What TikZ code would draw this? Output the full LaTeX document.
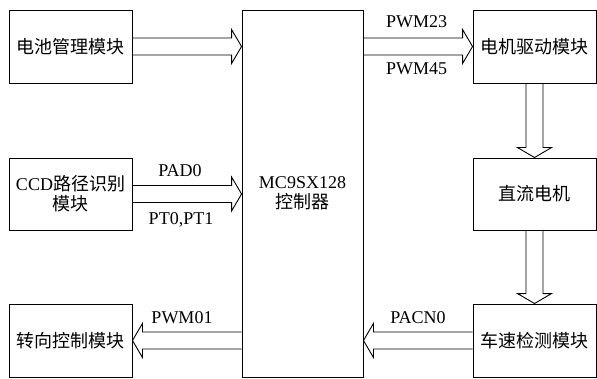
\documentclass[tikz,border=0pt]{standalone}
\usepackage{fontspec}
\setmainfont{Liberation Serif}
\newfontfamily\cjk{Noto Sans CJK SC}
\usepackage{tikz}
\usetikzlibrary{calc,positioning}

\tikzset{
  box/.style={draw, line width=0.9pt, minimum width=123pt, minimum height=73pt,
    inner sep=0pt, align=center, font=\fontsize{18}{20}\selectfont},
  lbl/.style={inner sep=0pt, font=\fontsize{18}{20}\selectfont},
  link/.style={line width=0.9pt, line join=miter},
  hollow/.style={to path={
    let \p1=($(\tikztotarget)-(\tikztostart)$),
        \n1={atan2(\y1,\x1)}, \n2={veclen(\x1,\y1)} in
    {[shift={(\tikztostart)}, rotate=\n1]
      (0,8.5pt) -- (\n2-10pt,8.5pt) -- (\n2-10pt,17pt) -- (\n2,0)
      -- (\n2-10pt,-17pt) -- (\n2-10pt,-8.5pt) -- (0,-8.5pt)}
  }}
}

\begin{document}
\begin{tikzpicture}[x=1pt,y=1pt]
\useasboundingbox (0,0) rectangle (597,378);

% left column
\node[box] (batt) at (70.5,331.5) {\cjk 电池管理模块};
\node[box, minimum height=72pt] (ccd) at (70.5,184) {CCD\cjk 路径识别\\\cjk 模块};
\node[box] (steer) at (70.5,37.5) {\cjk 转向控制模块};

% controller
\node[box, minimum width=121pt, minimum height=367pt] (mcu) at (302.5,184.5)
  {MC9SX128\\\cjk 控制器};

% right column
\node[box] (drive) at (534.5,331.5) {\cjk 电机驱动模块};
\node[box, minimum height=72pt] (motor) at (534.5,184) {\cjk 直流电机};
\node[box] (speed) at (534.5,37.5) {\cjk 车速检测模块};

% signal arrows
\draw[link] (batt.east) to[hollow] (mcu.west |- batt.east);
\draw[link] (mcu.east |- drive.west) to[hollow] (drive.west);
\draw[link] (ccd.east) to[hollow] (mcu.west |- ccd.east);
\draw[link] (drive.south) to[hollow] (motor.north);
\draw[link] (motor.south) to[hollow] (speed.north);
\draw[link] (speed.west) to[hollow] (mcu.east |- speed.west);
\draw[link] (mcu.west |- steer.east) to[hollow] (steer.east);

% labels
\node[lbl] (pwmA) at (416.5,356) {PWM23};
\node[lbl] (pwmB) at (416.5,309) {PWM45};
\node[lbl] (pad) at (180,207) {PAD0};
\node[lbl] (pt) at (181,158) {PT0,PT1};
\node[lbl] (pwmC) at (182,60) {PWM01};
\node[lbl] (pacn) at (418,60) {PACN0};
\end{tikzpicture}
\end{document}
